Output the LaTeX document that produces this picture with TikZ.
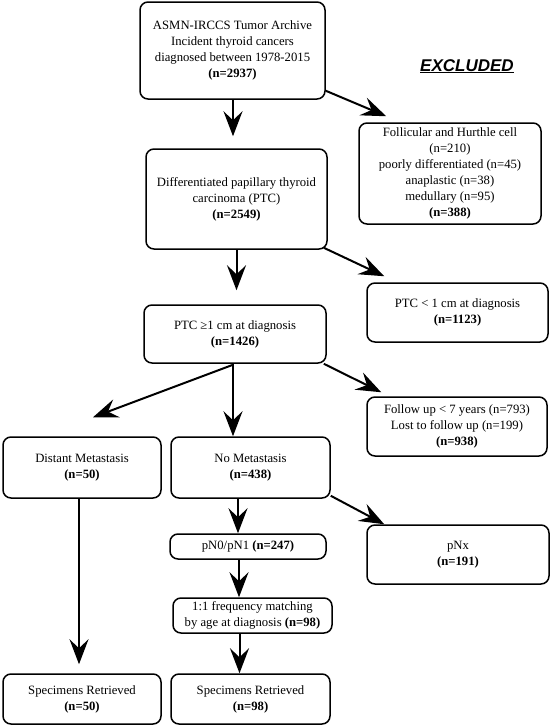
\documentclass[tikz,border=0pt]{standalone}
\usepackage{fontspec}
\setmainfont{Liberation Serif}
\newfontfamily\exfont{Liberation Sans}
\usetikzlibrary{arrows.meta,calc}
\newcommand\flowbox[6]{\node[box, minimum width={#4pt-#2pt}, minimum height={#5pt-#3pt}] (#1) at ({(#2+#4)/2},{(#3+#5)/2}) {#6};}
\begin{document}
\begin{tikzpicture}[x=1pt,y=-1pt,
  box/.style={draw, line width=1.5pt, rounded corners=8pt, align=center, inner sep=0pt,
    font=\fontsize{12.7}{16}\selectfont},
  arr/.style={line width=2pt, -{Stealth[length=25pt,width=19pt,inset=9pt]}},
  extitle/.style={font=\exfont\bfseries\itshape\fontsize{17}{20}\selectfont, inner sep=0pt, anchor=base}]
\useasboundingbox (0,0) rectangle (550,726);
\fill[white] (0,0) rectangle (550,726);

\flowbox{top}{140}{2}{325}{99}{ASMN-IRCCS Tumor Archive\\Incident thyroid cancers\\diagnosed between 1978-2015\\\textbf{(n=2937)}}
\flowbox{excl}{359}{123}{541}{224}{Follicular and Hurthle cell\\(n=210)\\poorly differentiated (n=45)\\anaplastic (n=38)\\medullary (n=95)\\\textbf{(n=388)}}
\flowbox{ptc}{146}{149}{327}{249}{Differentiated papillary thyroid\\carcinoma (PTC)\\\textbf{(n=2549)}}
\flowbox{ptcone}{367}{283}{548}{342}{PTC < 1 cm at diagnosis\\\textbf{(n=1123)}}
\flowbox{ptcge}{144}{305}{326}{363}{PTC ≥1 cm at diagnosis\\\textbf{(n=1426)}}
\flowbox{fu}{367}{397}{547}{456}{Follow up < 7 years (n=793)\\Lost to follow up (n=199)\\\textbf{(n=938)}}
\flowbox{dist}{3}{437}{161}{498}{Distant Metastasis\\\textbf{(n=50)}}
\flowbox{nomet}{171}{437}{330}{498}{No Metastasis\\\textbf{(n=438)}}
\flowbox{pn}{170}{534}{326}{559}{pN0/pN1 \textbf{(n=247)}}
\flowbox{pnx}{367}{525}{549}{584}{pNx\\\textbf{(n=191)}}
\flowbox{match}{173}{598}{332}{633}{1:1 frequency matching\\by age at diagnosis \textbf{(n=98)}}
\flowbox{specA}{3}{674}{161}{724}{Specimens Retrieved\\\textbf{(n=50)}}
\flowbox{specB}{171}{674}{330}{724}{Specimens Retrieved\\\textbf{(n=98)}}

\node[extitle] (extitle) at (467,71) {\underline{EXCLUDED}};

% vertical arrows
\draw[arr, shorten >=12pt] ([xshift=0.5pt]top.south) -- ([xshift=0.5pt]top.south |- ptc.north);
\draw[arr, shorten >=14pt] (ptc.south) -- (ptc.south |- ptcge.north);
\draw[arr] ([xshift=-2pt]ptcge.south) -- ([xshift=-2pt]ptcge.south |- nomet.north);
\draw[arr] ([xshift=-12.5pt]nomet.south) -- ([xshift=-12.5pt]nomet.south |- pn.north);
\draw[arr] ([xshift=-9pt]pn.south) -- ([xshift=-9pt]pn.south |- match.north);
\draw[arr] ([xshift=-13pt]match.south) -- ([xshift=-13pt]match.south |- specB.north);
\draw[arr, shorten >=9pt] ([xshift=-3pt]dist.south) -- ([xshift=-3pt]dist.south |- specA.north);

% diagonal arrows
\draw[arr] ($(top.south east)+(0,-9)$) -- ($(excl.north west)+(28,-6)$);
\draw[arr] ($(ptc.south east)+(-4,-2)$) -- ($(ptcone.north west)+(18,-6)$);
\draw[arr] ($(ptcge.south east)+(-3,0)$) -- ($(fu.north west)+(15,-4)$);
\draw[arr] ($(ptcge.south)+(-2,1)$) -- ($(dist.north)+(11,-19)$);
\draw[arr] ($(nomet.south east)+(0,-3)$) -- ($(pnx.north west)+(18,0)$);
\end{tikzpicture}
\end{document}
